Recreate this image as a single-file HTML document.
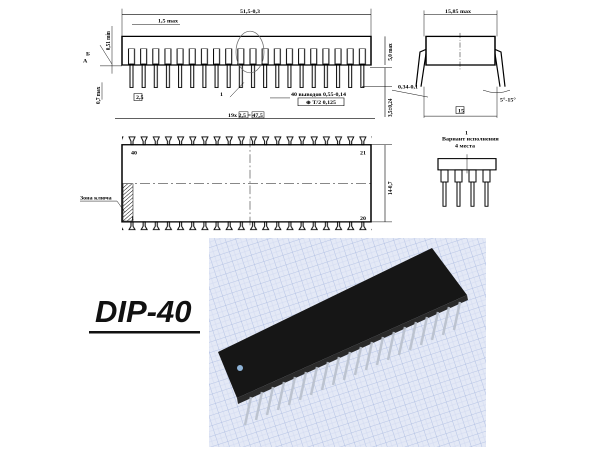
<!DOCTYPE html>
<html><head><meta charset="utf-8"><style>
html,body{margin:0;padding:0;background:#fff;}
body{width:600px;height:451px;overflow:hidden;position:relative;font-family:"Liberation Serif",serif;}
svg{position:absolute;left:0;top:0;}
</style></head><body>
<svg width="600" height="451" viewBox="0 0 600 451">
<defs>
<pattern id="tp" x="127" y="0" width="12.15" height="451" patternUnits="userSpaceOnUse">
 <rect x="1.5" y="56" width="6" height="18" fill="none" stroke="#000" stroke-width="1"/>
 <rect x="3" y="74" width="3" height="27" fill="#fff" stroke="#000" stroke-width="1"/>
</pattern>
<pattern id="bp" x="127" y="0" width="12.15" height="451" patternUnits="userSpaceOnUse">
 <path d="M2 158 L8 158 L6 163 L6 167 L4 167 L4 163 Z" fill="#fff" stroke="#000" stroke-width="1"/>
 <path d="M2 265 L8 265 L6 261 L6 256 L4 256 L4 261 Z" fill="#fff" stroke="#000" stroke-width="1"/>
</pattern>
<pattern id="hatch" width="3" height="3" patternUnits="userSpaceOnUse" patternTransform="rotate(45)">
 <line x1="0" y1="0" x2="0" y2="3" stroke="#000" stroke-width="1"/>
</pattern>
<pattern id="grid" width="10" height="10" patternUnits="userSpaceOnUse" patternTransform="rotate(-18)">
 <rect width="10" height="10" fill="#e4e9f6"/>
 <path d="M0 0H10M0 0V10" stroke="#a8b8e0" stroke-width="0.8"/>
 <path d="M0 5H10M5 0V10" stroke="#cbd4ee" stroke-width="0.4"/>
</pattern>
</defs>

<g transform="scale(1,0.8667)">
<g stroke="#000" fill="none">
<rect x="127" y="56" width="243" height="46" fill="url(#tp)" stroke="none"/>
<path d="M122 42 H371 V75 H122 Z" stroke-width="1.5"/>
<ellipse cx="250" cy="60" rx="14" ry="24" stroke-width="0.7" stroke="#666"/>
<line x1="122" y1="17" x2="371" y2="17" stroke-width="0.7"/>
<line x1="122" y1="10" x2="122" y2="42" stroke-width="0.5"/>
<line x1="371" y1="10" x2="371" y2="42" stroke-width="0.5"/>
<line x1="132" y1="28" x2="180" y2="28" stroke-width="0.5"/>
<line x1="115" y1="137" x2="375" y2="137" stroke-width="0.7"/>
<line x1="385" y1="42" x2="385" y2="75" stroke-width="0.6"/>
<line x1="385" y1="78" x2="385" y2="135" stroke-width="0.6"/>
<line x1="370" y1="78" x2="392" y2="78" stroke-width="0.5"/>
<line x1="362" y1="100" x2="392" y2="100" stroke-width="0.5"/>
<line x1="100" y1="52" x2="112" y2="74" stroke-width="0.5"/>
<line x1="100" y1="76" x2="122" y2="76" stroke-width="0.5"/>
<line x1="112" y1="30" x2="112" y2="85" stroke-width="0.5"/>
<line x1="102" y1="95" x2="102" y2="115" stroke-width="0.5"/>
<rect x="134" y="108" width="8" height="8" stroke-width="0.6"/>
<rect x="298" y="113" width="46" height="9" stroke-width="0.6"/>
<rect x="239" y="129" width="9" height="7" stroke-width="0.5"/>
<rect x="252" y="129" width="12" height="7" stroke-width="0.5"/>
<line x1="230" y1="112" x2="244" y2="95" stroke-width="0.5"/>
<line x1="270" y1="113" x2="290" y2="113" stroke-width="0.5"/>
<rect x="426" y="42" width="69" height="33" stroke-width="1.5"/>
<path d="M426 57 L420 60 L416 100 M426 62 L421 100" stroke-width="1.2"/>
<path d="M495 57 L501 60 L505 100 M495 62 L500 100" stroke-width="1.2"/>
<line x1="460" y1="38" x2="460" y2="80" stroke-width="0.5" stroke-dasharray="6 2 1 2"/>
<line x1="424" y1="17" x2="497" y2="17" stroke-width="0.6"/>
<line x1="424" y1="12" x2="424" y2="42" stroke-width="0.5"/>
<line x1="497" y1="12" x2="497" y2="42" stroke-width="0.5"/>
<line x1="424" y1="134" x2="497" y2="134" stroke-width="0.6"/>
<line x1="424" y1="100" x2="424" y2="136" stroke-width="0.5"/>
<line x1="497" y1="100" x2="497" y2="136" stroke-width="0.5"/>
<rect x="456" y="123" width="8" height="8" stroke-width="0.6"/>
<path d="M483 104 Q497 110 510 104" stroke-width="0.5"/>
<line x1="392" y1="104" x2="428" y2="112" stroke-width="0.5"/>
<rect x="122" y="155" width="250" height="115" fill="url(#bp)" stroke="none"/>
<rect x="122" y="167" width="249" height="89" stroke-width="1.5"/>
<rect x="123" y="212" width="10" height="43" fill="url(#hatch)" stroke-width="0.5"/>
<line x1="250" y1="160" x2="250" y2="262" stroke-width="0.5" stroke-dasharray="10 3 2 3"/>
<line x1="122" y1="212" x2="371" y2="212" stroke-width="0.5" stroke-dasharray="10 3 2 3"/>
<line x1="385" y1="167" x2="385" y2="256" stroke-width="0.6"/>
<line x1="371" y1="167" x2="392" y2="167" stroke-width="0.5"/>
<line x1="371" y1="256" x2="392" y2="256" stroke-width="0.5"/>
<line x1="80" y1="232" x2="117" y2="232" stroke-width="0.5"/>
<line x1="117" y1="232" x2="125" y2="245" stroke-width="0.5"/>
<rect x="438" y="183" width="58" height="13" stroke-width="1.2"/>
<g stroke-width="1">
<rect x="441" y="196" width="7" height="14"/><rect x="455" y="196" width="7" height="14"/><rect x="469" y="196" width="7" height="14"/><rect x="483" y="196" width="7" height="14"/>
<rect x="443" y="210" width="3" height="28"/><rect x="457" y="210" width="3" height="28"/><rect x="471" y="210" width="3" height="28"/><rect x="485" y="210" width="3" height="28"/>
</g>
<line x1="467" y1="178" x2="467" y2="200" stroke-width="0.5"/>
</g>

<g font-family="Liberation Serif,serif" font-size="6" font-weight="bold" fill="#000">
<text x="240" y="15">51,5-0,3</text>
<text x="158" y="26">1,5 max</text>
<text x="445" y="15">15,85 max</text>
<text x="291" y="111">40 выводов 0,55-0,14</text>
<text x="306" y="120">⊕ T/2 0,125</text>
<text x="228" y="135">19x  2,5 = 47,5</text>
<text x="136" y="114">2,5</text>
<text x="220" y="111">1</text>
<text x="398" y="102">0,34-0,1</text>
<text x="500" y="117">5°-15°</text>
<text x="458" y="130">15</text>
<text x="86" y="64">Б</text>
<text x="83" y="72">A</text>
<text x="131" y="178">40</text>
<text x="360" y="178">21</text>
<text x="131" y="254">1</text>
<text x="360" y="254">20</text>
<text x="80" y="230">Зона ключа</text>
<text x="465" y="155">1</text>
<text x="442" y="162">Вариант исполнения</text>
<text x="455" y="170">4 места</text>
<text transform="translate(110,58) rotate(-90)">0,51 min</text>
<text transform="translate(100,120) rotate(-90)">0,7 max</text>
<text transform="translate(392,70) rotate(-90)">5,0 max</text>
<text transform="translate(392,135) rotate(-90)">3,5±0,24</text>
<text transform="translate(392,225) rotate(-90)">14-0,7</text>
</g>
</g>

<rect x="209" y="238" width="277" height="209" fill="url(#grid)"/>
<polygon points="218,352 432,248 467,295 237,398" fill="#161616"/>
<polygon points="237,398 467,295 468,300 238,404" fill="#2a2a2a"/>
<g stroke="#b9c0cc" stroke-width="2.5" opacity="0.9">
<line x1="262" y1="392" x2="256" y2="420"/><line x1="273" y1="387" x2="267" y2="415"/><line x1="284" y1="382" x2="278" y2="410"/><line x1="295" y1="377" x2="289" y2="405"/>
<line x1="306" y1="372" x2="300" y2="400"/><line x1="317" y1="367" x2="311" y2="395"/><line x1="328" y1="362" x2="322" y2="390"/><line x1="339" y1="357" x2="333" y2="385"/>
<line x1="350" y1="352" x2="344" y2="380"/><line x1="361" y1="347" x2="355" y2="375"/><line x1="372" y1="342" x2="366" y2="370"/><line x1="383" y1="337" x2="377" y2="365"/>
<line x1="394" y1="332" x2="388" y2="360"/><line x1="405" y1="327" x2="399" y2="355"/><line x1="416" y1="322" x2="410" y2="350"/><line x1="427" y1="317" x2="421" y2="345"/>
<line x1="438" y1="312" x2="432" y2="340"/><line x1="449" y1="307" x2="443" y2="335"/><line x1="460" y1="302" x2="454" y2="330"/><line x1="251" y1="397" x2="245" y2="425"/>
</g>
<circle cx="240" cy="368" r="3" fill="#8fb4d8"/>

<text x="95" y="322" font-family="Liberation Sans,sans-serif" font-size="31" font-weight="bold" font-style="italic" fill="#111">DIP-40</text>
<rect x="89" y="331" width="111" height="2.5" fill="#111"/>
</svg>
</body></html>
